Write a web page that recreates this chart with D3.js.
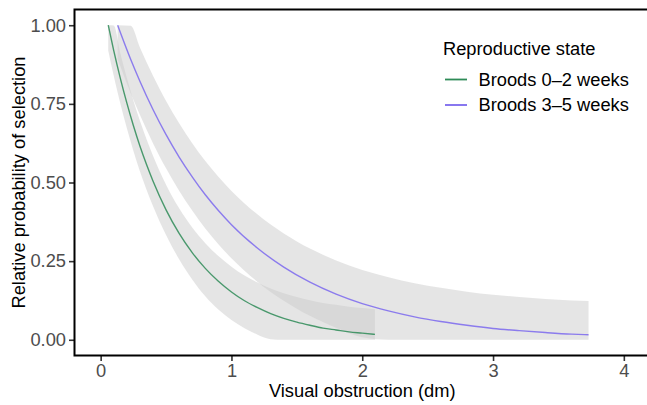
<!DOCTYPE html>
<html>
<head>
<meta charset="utf-8">
<script src="https://cdn.jsdelivr.net/npm/d3@7"></script>
<style>
  body { margin: 0; background: #fff; }
  svg { display: block; font-family: "Liberation Sans", Arial, Helvetica, sans-serif; }
</style>
</head>
<body>
<svg width="647" height="405"></svg>
<script>
// values
var groups = ["Broods 0\u20132 weeks", "Broods 3\u20135 weeks"];
var colors = ["#2e8b57", "#7b68ee"];

// Broods 0-2 weeks
var x1   = [0.058, 0.1, 0.15, 0.2, 0.25, 0.3, 0.35, 0.4, 0.5, 0.6, 0.7, 0.8, 0.9, 1.0, 1.1, 1.2, 1.3, 1.4, 1.5, 1.6, 1.7, 1.8, 1.9, 2.0, 2.097];
var fit1 = [1.0, 0.919, 0.832, 0.753, 0.681, 0.616, 0.558, 0.505, 0.413, 0.338, 0.277, 0.227, 0.186, 0.152, 0.124, 0.102, 0.083, 0.068, 0.056, 0.046, 0.037, 0.031, 0.025, 0.021, 0.017];
var lo1  = [0.92, 0.839, 0.752, 0.673, 0.601, 0.536, 0.478, 0.425, 0.333, 0.256, 0.192, 0.138, 0.096, 0.063, 0.037, 0.016, 0.002, 0, 0, 0, 0, 0, 0, 0, 0];
var hi1  = [1.0, 0.999, 0.912, 0.833, 0.761, 0.696, 0.638, 0.585, 0.493, 0.418, 0.357, 0.307, 0.266, 0.232, 0.204, 0.182, 0.163, 0.148, 0.136, 0.126, 0.117, 0.111, 0.105, 0.101, 0.097];

// Broods 3-5 weeks
var x2   = [0.13, 0.23, 0.3, 0.4, 0.5, 0.6, 0.7, 0.8, 0.9, 1.0, 1.2, 1.4, 1.6, 1.8, 2.0, 2.2, 2.4, 2.6, 2.8, 3.0, 3.2, 3.4, 3.6, 3.73];
var fit2 = [1.0, 0.891, 0.822, 0.732, 0.652, 0.581, 0.518, 0.461, 0.411, 0.366, 0.291, 0.231, 0.183, 0.145, 0.115, 0.092, 0.073, 0.058, 0.046, 0.036, 0.029, 0.023, 0.018, 0.016];
var lo2  = [0.893, 0.784, 0.715, 0.625, 0.545, 0.474, 0.411, 0.354, 0.304, 0.259, 0.184, 0.124, 0.076, 0.038, 0.008, 0, 0, 0, 0, 0, 0, 0, 0, 0];
var hi2  = [1.0, 0.998, 0.929, 0.839, 0.759, 0.688, 0.625, 0.568, 0.518, 0.473, 0.398, 0.338, 0.29, 0.252, 0.222, 0.199, 0.18, 0.165, 0.153, 0.143, 0.136, 0.13, 0.125, 0.123];

var xTicks = [0, 1, 2, 3, 4];
var yTicks = [0, 0.25, 0.5, 0.75, 1];

var fontSize = "18.3px";

var svg = d3.select("svg");

var x = d3.scaleLinear().domain([-0.2, 4.2]).range([74.5, 650]);
var y = d3.scaleLinear().domain([-0.05, 1.05]).range([355.5, 9.5]);

var series = [
  { name: groups[0], color: colors[0], x: x1, fit: fit1, lo: lo1, hi: hi1 },
  { name: groups[1], color: colors[1], x: x2, fit: fit2, lo: lo2, hi: hi2 }
];

function rows(s) {
  return s.x.map(function(v, i) { return { x: v, fit: s.fit[i], lo: s.lo[i], hi: s.hi[i] }; });
}

var area = d3.area()
    .curve(d3.curveMonotoneX)
    .x(function(d) { return x(d.x); })
    .y0(function(d) { return y(d.lo); })
    .y1(function(d) { return y(d.hi); });

var line = d3.line()
    .curve(d3.curveMonotoneX)
    .x(function(d) { return x(d.x); })
    .y(function(d) { return y(d.fit); });

var panel = svg.append("g").attr("class", "panel");

// ribbons first, then the fitted lines
panel.selectAll("path.ribbon")
    .data(series)
  .enter().append("path")
    .attr("class", "ribbon")
    .attr("d", function(s) { return area(rows(s)); })
    .attr("fill", "#cbcbcb")
    .attr("fill-opacity", 0.5);

panel.selectAll("path.fit")
    .data(series)
  .enter().append("path")
    .attr("class", "fit")
    .attr("d", function(s) { return line(rows(s)); })
    .attr("fill", "none")
    .attr("stroke", function(s) { return s.color; })
    .attr("stroke-opacity", 0.85)
    .attr("stroke-width", 1.4);

// axes
var xAxis = svg.append("g")
    .attr("transform", "translate(0," + y.range()[0] + ")")
    .call(d3.axisBottom(x).tickValues(xTicks).tickFormat(d3.format("d")).tickSize(5.5).tickPadding(3));

var yAxis = svg.append("g")
    .attr("transform", "translate(" + x.range()[0] + ",0)")
    .call(d3.axisLeft(y).tickValues(yTicks).tickFormat(d3.format(".2f")).tickSize(5.5).tickPadding(3));

[xAxis, yAxis].forEach(function(a) {
  a.select(".domain").remove();
  a.selectAll(".tick line").attr("stroke", "#333").attr("stroke-width", 1.6);
  a.selectAll(".tick text").attr("fill", "#4d4d4d").style("font-size", fontSize);
});

// panel lines: left, bottom, top
svg.append("path")
    .attr("d", "M" + x.range()[1] + "," + y.range()[1] +
               "H" + x.range()[0] + "V" + y.range()[0] + "H" + x.range()[1])
    .attr("fill", "none")
    .attr("stroke", "#000")
    .attr("stroke-width", 2);

// axis titles
svg.append("text")
    .attr("x", (x.range()[0] + x.range()[1]) / 2)
    .attr("y", 396.5)
    .attr("text-anchor", "middle")
    .style("font-size", fontSize)
    .text("Visual obstruction (dm)");

svg.append("text")
    .attr("transform", "translate(25," + (y.range()[0] + y.range()[1]) / 2 + ") rotate(-90)")
    .attr("text-anchor", "middle")
    .style("font-size", fontSize)
    .text("Relative probability of selection");

// legend
var legend = svg.append("g").attr("transform", "translate(443,0)");
legend.append("text")
    .attr("x", 0).attr("y", 54.5)
    .style("font-size", fontSize)
    .text("Reproductive state");

var key = legend.selectAll("g.key")
    .data(series)
  .enter().append("g")
    .attr("class", "key")
    .attr("transform", function(d, i) { return "translate(0," + (79.5 + i * 25.5) + ")"; });

key.append("line")
    .attr("x1", 2).attr("x2", 24)
    .attr("stroke", function(d) { return d.color; })
    .attr("stroke-width", 1.8);

key.append("text")
    .attr("x", 35.5).attr("y", 6.2)
    .style("font-size", fontSize)
    .text(function(d) { return d.name; });
</script>
</body>
</html>
